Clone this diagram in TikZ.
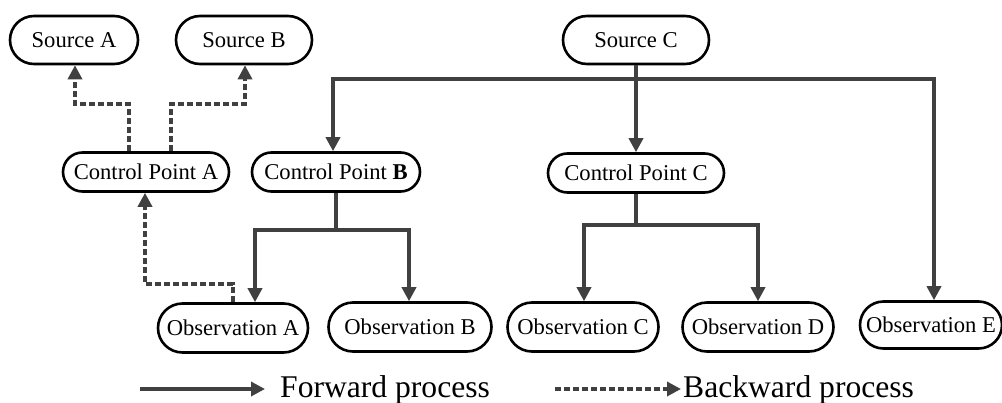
\documentclass[tikz,border=0pt]{standalone}
\usepackage{fontspec}
\setmainfont{Liberation Serif}
\usetikzlibrary{arrows.meta,shapes.misc}
\begin{document}
\begin{tikzpicture}[x=1pt,y=-1pt,
  box/.style={rounded rectangle, draw=black, line width=2.6pt, inner sep=0pt,
    font=\fontsize{22.6}{26}\selectfont, text=black},
  srcbox/.style={box, minimum height=48pt},
  cpbox/.style={box, minimum height=39pt},
  obsbox/.style={box, minimum height=49pt},
  fwd/.style={draw=black!75, line width=3.4pt, -{Triangle[length=14pt,width=14pt]}},
  fwdline/.style={draw=black!75, line width=3.4pt},
  bwd/.style={draw=black!75, line width=3.4pt, dash pattern=on 6pt off 3pt, -{Triangle[length=14pt,width=14pt]}},
  bwdline/.style={draw=black!75, line width=3.4pt, dash pattern=on 6pt off 3pt},
  legend/.style={font=\fontsize{31.6}{36}\selectfont, text=black, inner sep=0pt}
]
\path[use as bounding box] (0,0) rectangle (1002,402);

\node[srcbox, minimum width=128pt] (srcA) at (74,40) {Source A};
\node[srcbox, minimum width=136pt] (srcB) at (244,40) {Source B};
\node[srcbox, minimum width=146pt] (srcC) at (636,40) {Source C};

\node[cpbox, minimum width=166pt] (cpA) at (146,172) {Control Point A};
\node[cpbox, minimum width=168pt] (cpB) at (336,172) {Control Point \textbf{B}};
\node[cpbox, minimum width=176pt] (cpC) at (636,173) {Control Point C};

\node[obsbox, minimum width=150pt] (obsA) at (233,328) {Observation A};
\node[obsbox, minimum width=163pt] (obsB) at (410,327) {Observation B};
\node[obsbox, minimum width=151pt] (obsC) at (583,327) {Observation C};
\node[obsbox, minimum width=151pt] (obsD) at (758,327) {Observation D};
\node[box, minimum height=47pt, minimum width=142pt] (obsE) at (931,325) {Observation E};

% forward from Source C
\coordinate (jS) at (636,79);
\draw[fwd] (srcC.south) -- (cpC.north);
\draw[fwd] (jS) -| ([xshift=-3pt]cpB.north);
\draw[fwd] (jS) -| ([xshift=3pt]obsE.north);

% forward from Control Point B
\coordinate (jB) at (336,230);
\draw[fwdline] (cpB.south) -- (jB);
\draw[fwd] (jB) -| ([xshift=22pt]obsA.north);
\draw[fwd] (jB) -| ([xshift=-1pt]obsB.north);

% forward from Control Point C
\coordinate (jC) at (636,225);
\draw[fwdline] (cpC.south) -- (jC);
\draw[fwd] (jC) -| ([xshift=1pt]obsC.north);
\draw[fwd] (jC) -| (obsD.north);

% backward
\coordinate (dA) at (129,104);
\coordinate (dB) at (171,104);
\draw[bwd] ([xshift=-17pt]cpA.north) -- (dA) -| ([xshift=1pt]srcA.south);
\draw[bwd] ([xshift=25pt]cpA.north) -- (dB) -| ([xshift=1pt]srcB.south);
\coordinate (dO) at (233,284);
\draw[bwd] (obsA.north) -- (dO) -| ([xshift=-1pt]cpA.south);

% legend
\coordinate (f1) at (140,389);
\coordinate (f2) at (265,389);
\draw[fwd] (f1) -- (f2);
\node[legend, anchor=base west] (fl) at (280,397) {Forward process};
\coordinate (b1) at (555,389);
\coordinate (b2) at (681,389);
\draw[bwd] (b1) -- (b2);
\node[legend, anchor=base west] (bl) at (683,397) {Backward process};
\end{tikzpicture}
\end{document}
